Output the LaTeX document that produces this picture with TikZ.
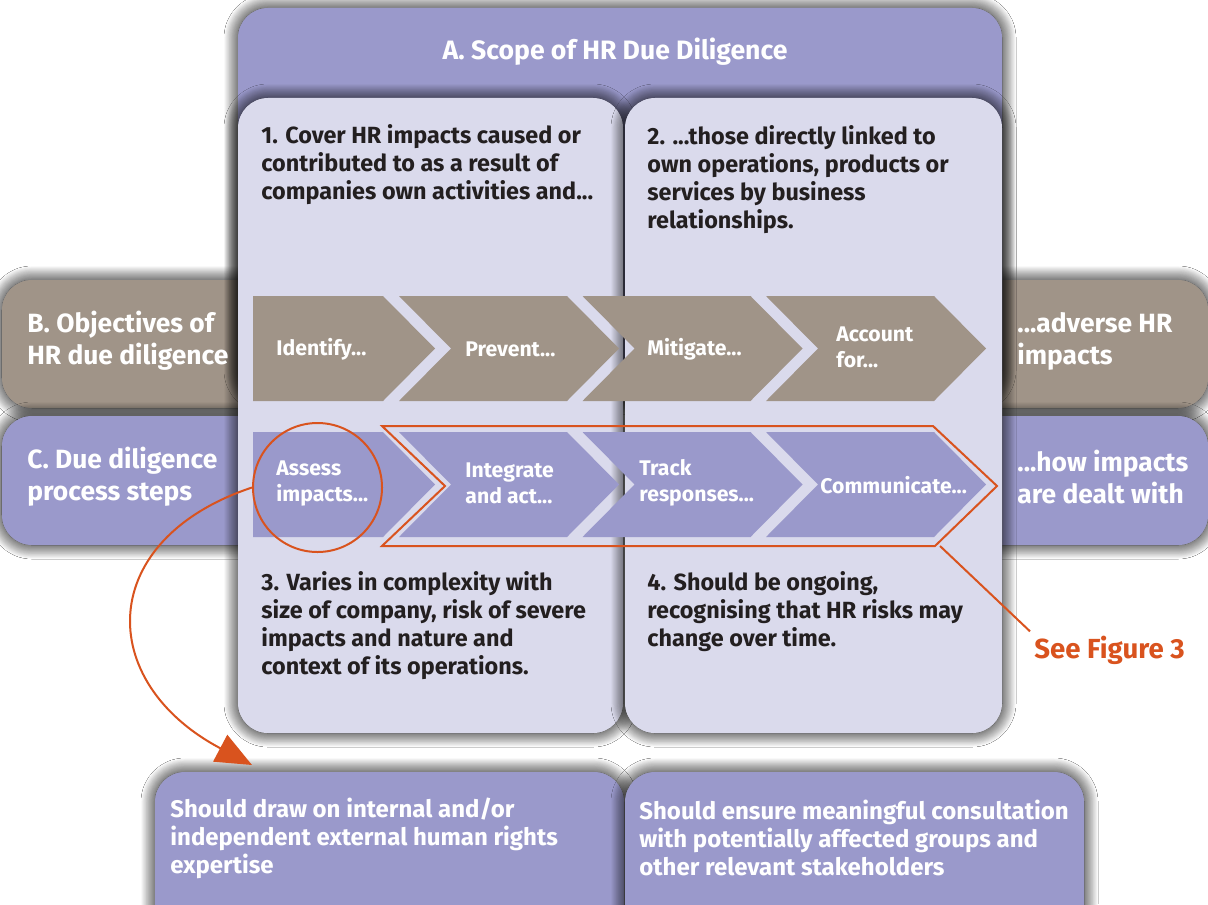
\documentclass[tikz,border=0pt]{standalone}
\usepackage{fontspec}
\setmainfont{Fira Sans}
\usetikzlibrary{shadows.blur,arrows.meta}
\definecolor{purp}{HTML}{9A99CB}
\definecolor{lite}{HTML}{DADAEC}
\definecolor{taupe}{HTML}{A09488}
\definecolor{orng}{HTML}{D9531E}
\definecolor{ink}{HTML}{231F20}
\begin{document}
\begin{tikzpicture}[x=0.5pt,y=-0.5pt,
  sh/.style={blur shadow={shadow xshift=0pt,shadow yshift=0pt,shadow blur radius=14pt,shadow blur steps=30,shadow opacity=100,shadow blur extra rounding=3pt},
             blur shadow={shadow xshift=0pt,shadow yshift=0pt,shadow blur radius=7pt,shadow blur steps=20,shadow opacity=60}},
  rc/.style={rounded corners=15pt},
  wtxt/.style={text=white,inner sep=0pt,anchor=west,align=left},
  btxt/.style={text=ink,inner sep=0pt,anchor=west,align=left,font=\fontsize{11.7}{14}\selectfont\bfseries},
  side/.style={wtxt,font=\fontsize{13.2}{16}\selectfont\bfseries},
  chev/.style={wtxt,font=\fontsize{10.6}{13}\selectfont\bfseries},
  bot/.style={wtxt,font=\fontsize{12}{14}\selectfont\bfseries},
  oline/.style={draw=orng,line width=1pt}]
\useasboundingbox (0,0) rectangle (1208,904);
\fill[white] (0,0) rectangle (1208,904);
% side boxes
\fill[taupe,rc,sh] (2,280) rectangle (300,408);
\fill[purp,rc,sh] (2,416) rectangle (300,545);
\fill[taupe,rc,sh] (950,280) rectangle (1208,408);
\fill[purp,rc,sh] (950,416) rectangle (1208,545);
% A panel
\fill[purp,rc,sh] (238,8) rectangle (1002,400);
% light panels
\fill[lite,rc,sh] (238,98) rectangle (623,733);
\fill[lite,rc,sh] (625,98) rectangle (1002,733);
% chevrons
\foreach \T/\B/\M/\c in {296/401/348.5/taupe,432/537/484.5/purp}{
  \fill[\c] (253,\T) -- (383,\T) -- (435,\M) -- (383,\B) -- (253,\B) -- cycle;
  \foreach \xl in {399,582.5,766}{
    \fill[\c] (\xl,\T) -- ({\xl+168},\T) -- ({\xl+220},\M) -- ({\xl+168},\B) -- (\xl,\B) -- ({\xl+52},\M) -- cycle;
  }
}
% outline
\draw[oline] (382,426) -- (933,426) -- (997,486) -- (935,546) -- (382,546) -- (445,486) -- cycle;
\coordinate (ocorner) at (940,546);
% circle
\node[circle,oline,minimum size=64.5pt,inner sep=0pt] (circ) at (317.5,487.5) {};
% texts
\node[text=white,font=\fontsize{13.3}{15}\selectfont\bfseries,inner sep=0pt] (titleA) at (615,52) {A. Scope of HR Due Diligence};
\node[btxt] (t1) at (261,165) {1. Cover HR impacts caused or\\contributed to as a result of\\companies own activities and...};
\node[btxt] (t2) at (647,179.5) {2. ...those directly linked to\\own operations, products or\\services by business\\relationships.};
\node[btxt] (t3) at (261,625.5) {3. Varies in complexity with\\size of company, risk of severe\\impacts and nature and\\context of its operations.};
\node[btxt] (t4) at (647,611.5) {4. Should be ongoing,\\recognising that HR risks may\\change over time.};
\node[side] (bl) at (27,341) {B. Objectives of\\HR due diligence};
\node[side] (cl) at (27,477) {C. Due diligence\\process steps};
\node[side] (br) at (1017,341) {...adverse HR\\impacts};
\node[side] (cr) at (1017,477) {...how impacts\\are dealt with};
\node[chev] (c1) at (276,349) {Identify...};
\node[chev] (c2) at (465,349) {Prevent...};
\node[chev] (c3) at (647,349) {Mitigate...};
\node[chev] (c4) at (836,347) {Account\\for...};
\node[chev] (d1) at (276,483) {Assess\\impacts...};
\node[chev] (d2) at (465,483) {Integrate\\and act...};
\node[chev] (d3) at (639,483) {Track\\responses...};
\node[chev] (d4) at (820,485) {Communicate...};
\node[text=orng,font=\fontsize{13.8}{16}\selectfont\bfseries,inner sep=2pt,anchor=west] (fig3) at (1030,650) {See Figure 3};
\draw[oline] (ocorner) -- (fig3.north west);
% bottom boxes
\fill[purp,rc,sh] (155,772) rectangle (624,960);
\fill[purp,rc,sh] (625,772) rectangle (1084,960);
\node[bot] (b1) at (170,838) {Should draw on internal and/or\\independent external human rights\\expertise};
\node[bot] (b2) at (639,838) {Should ensure meaningful consultation\\with potentially affected groups and\\other relevant stakeholders};
% arrow
\coordinate (atip) at (252,765);
\draw[orng,line width=1pt,-{Triangle[length=18pt,width=15pt]}] (circ.west) .. controls (95,540) and (95,682) .. (atip);
\end{tikzpicture}
\end{document}
